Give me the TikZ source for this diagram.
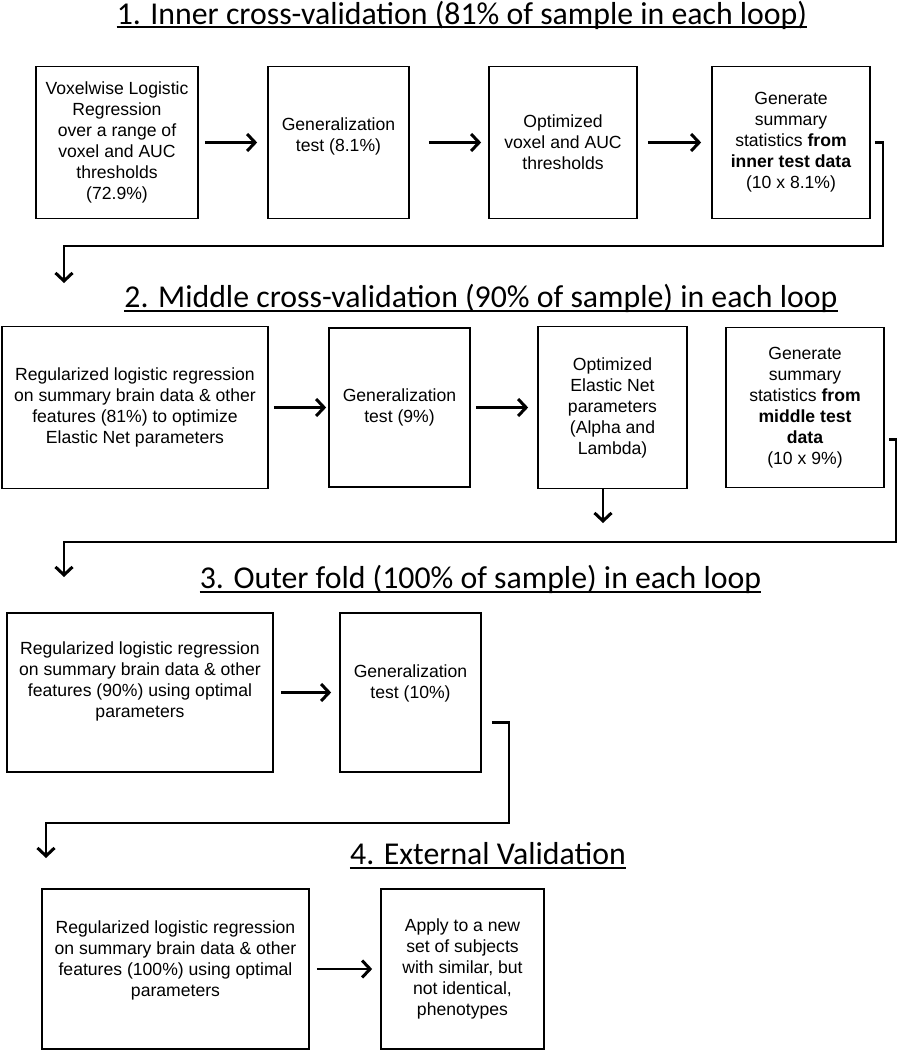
\documentclass[tikz,border=0pt]{standalone}
\usepackage{fontspec}
\setmainfont{Liberation Sans}
\newfontfamily\titlefont{Carlito}
\usetikzlibrary{positioning, arrows.meta}

\begin{document}
\begin{tikzpicture}[x=1pt, y=-1pt,
    box/.style={draw=black, line width=1.7pt, align=center, inner sep=0pt,
        font=\fontsize{17.6}{21}\selectfont},
    flow/.style={line width=2.1pt, shorten <=7pt, shorten >=8pt,
        -{Straight Barb[length=8pt, width=17pt, line width=3pt]}},
    loop/.style={line width=2.1pt, -{Straight Barb[length=8pt, width=17pt, line width=3pt]}},
    title/.style={anchor=base, inner sep=0pt, font=\titlefont\fontsize{31.8}{32}\selectfont},
    uline/.style={line width=1.6pt}]
    \useasboundingbox (0,0) rectangle (899,1050);

    % 1. inner loop
    \node[title] (T1) at (462,24) {1. Inner cross-validation (81\% of sample in each loop)};
    \draw[uline] ([yshift=-3pt]T1.base west) -- ([yshift=-3pt]T1.base east);

    \node[box, minimum width=162pt, minimum height=152pt] (A1) at (117,142.5)
        {Voxelwise Logistic\\Regression\\over a range of\\voxel and AUC\\thresholds\\(72.9\%)};
    \node[box, minimum width=141pt, minimum height=152pt] (A2) at (338.5,142.5)
        {Generalization\\test (8.1\%)\\[-5pt]\mbox{}};
    \node[box, minimum width=148pt, minimum height=152pt] (A3) at (563,142.5)
        {Optimized\\voxel and AUC\\thresholds};
    \node[box, minimum width=158pt, minimum height=152pt] (A4) at (791,142.5)
        {Generate\\summary\\statistics \textbf{from}\\\textbf{inner test data}\\(10 x 8.1\%)};

    \draw[flow, shorten <=6pt, shorten >=10pt] (A1) -- (A2);
    \draw[flow, shorten <=19pt, shorten >=7pt] (A2) -- (A3);
    \draw[flow, shorten <=10pt, shorten >=10pt] (A3) -- (A4);

    \coordinate (rA) at (883,246);
    \coordinate (inB) at (64,283);
    \draw[loop] ([xshift=4pt]A4.east) -| (rA) -| (inB);

    % 2. middle loop
    \node[title] (T2) at (481,307.5) {2. Middle cross-validation (90\% of sample) in each loop};
    \draw[uline] ([yshift=-3.5pt]T2.base west) -- ([yshift=-3.5pt]T2.base east);

    \node[box, minimum width=266pt, minimum height=162pt] (B1) at (135,407.5)
        {Regularized logistic regression\\on summary brain data \& other\\features (81\%) to optimize\\Elastic Net parameters};
    \node[box, minimum width=141pt, minimum height=159pt] (B2) at (399.5,407.5)
        {Generalization\\test (9\%)};
    \node[box, minimum width=149pt, minimum height=162pt] (B3) at (612.5,407.5)
        {Optimized\\Elastic Net\\parameters\\(Alpha and\\Lambda)};
    \node[box, minimum width=158pt, minimum height=160pt] (B4) at (805,407.5)
        {Generate\\summary\\statistics \textbf{from}\\\textbf{middle test}\\\textbf{data}\\(10 x 9\%)};

    \draw[flow, shorten <=5pt, shorten >=2pt] (B1) -- (B2);
    \draw[flow, shorten <=5pt, shorten >=9pt] (B2) -- (B3);

    \coordinate (outB3) at (603,523);
    \draw[loop] (B3.south -| outB3) -- (outB3);

    \coordinate (rB) at (896,542);
    \coordinate (inC) at (64,577);
    \draw[loop] ([xshift=4pt, yshift=-32pt]B4.east) -| (rB) -| (inC);

    % 3. outer fold
    \node[title] (T3) at (480.5,588.5) {3. Outer fold (100\% of sample) in each loop};
    \draw[uline] ([yshift=-3.5pt]T3.base west) -- ([yshift=-3.5pt]T3.base east);

    \node[box, minimum width=266pt, minimum height=159pt] (C1) at (140,692.5)
        {Regularized logistic regression\\on summary brain data \& other\\features (90\%) using optimal\\parameters\\[5pt]\mbox{}};
    \node[box, minimum width=141pt, minimum height=159pt] (C2) at (410.5,692.5)
        {Generalization\\test (10\%)\\[1pt]\mbox{}};

    \draw[flow] (C1) -- (C2);

    \coordinate (rC) at (509,823);
    \coordinate (inD) at (46,858);
    \draw[loop] ([xshift=10pt, yshift=-30pt]C2.east) -| (rC) -| (inD);

    % 4. external validation
    \node[title] (T4) at (488,864.5) {4. External Validation};
    \draw[uline] ([yshift=-3.5pt]T4.base west) -- ([yshift=-3.5pt]T4.base east);

    \node[box, minimum width=267pt, minimum height=160pt] (D1) at (175.5,969)
        {Regularized logistic regression\\on summary brain data \& other\\features (100\%) using optimal\\parameters\\[-1pt]\mbox{}};
    \node[box, minimum width=163pt, minimum height=160pt] (D2) at (462.5,969)
        {Apply to a new\\set of subjects\\with similar, but\\not identical,\\phenotypes};

    \draw[flow] (D1) -- (D2);
\end{tikzpicture}
\end{document}
